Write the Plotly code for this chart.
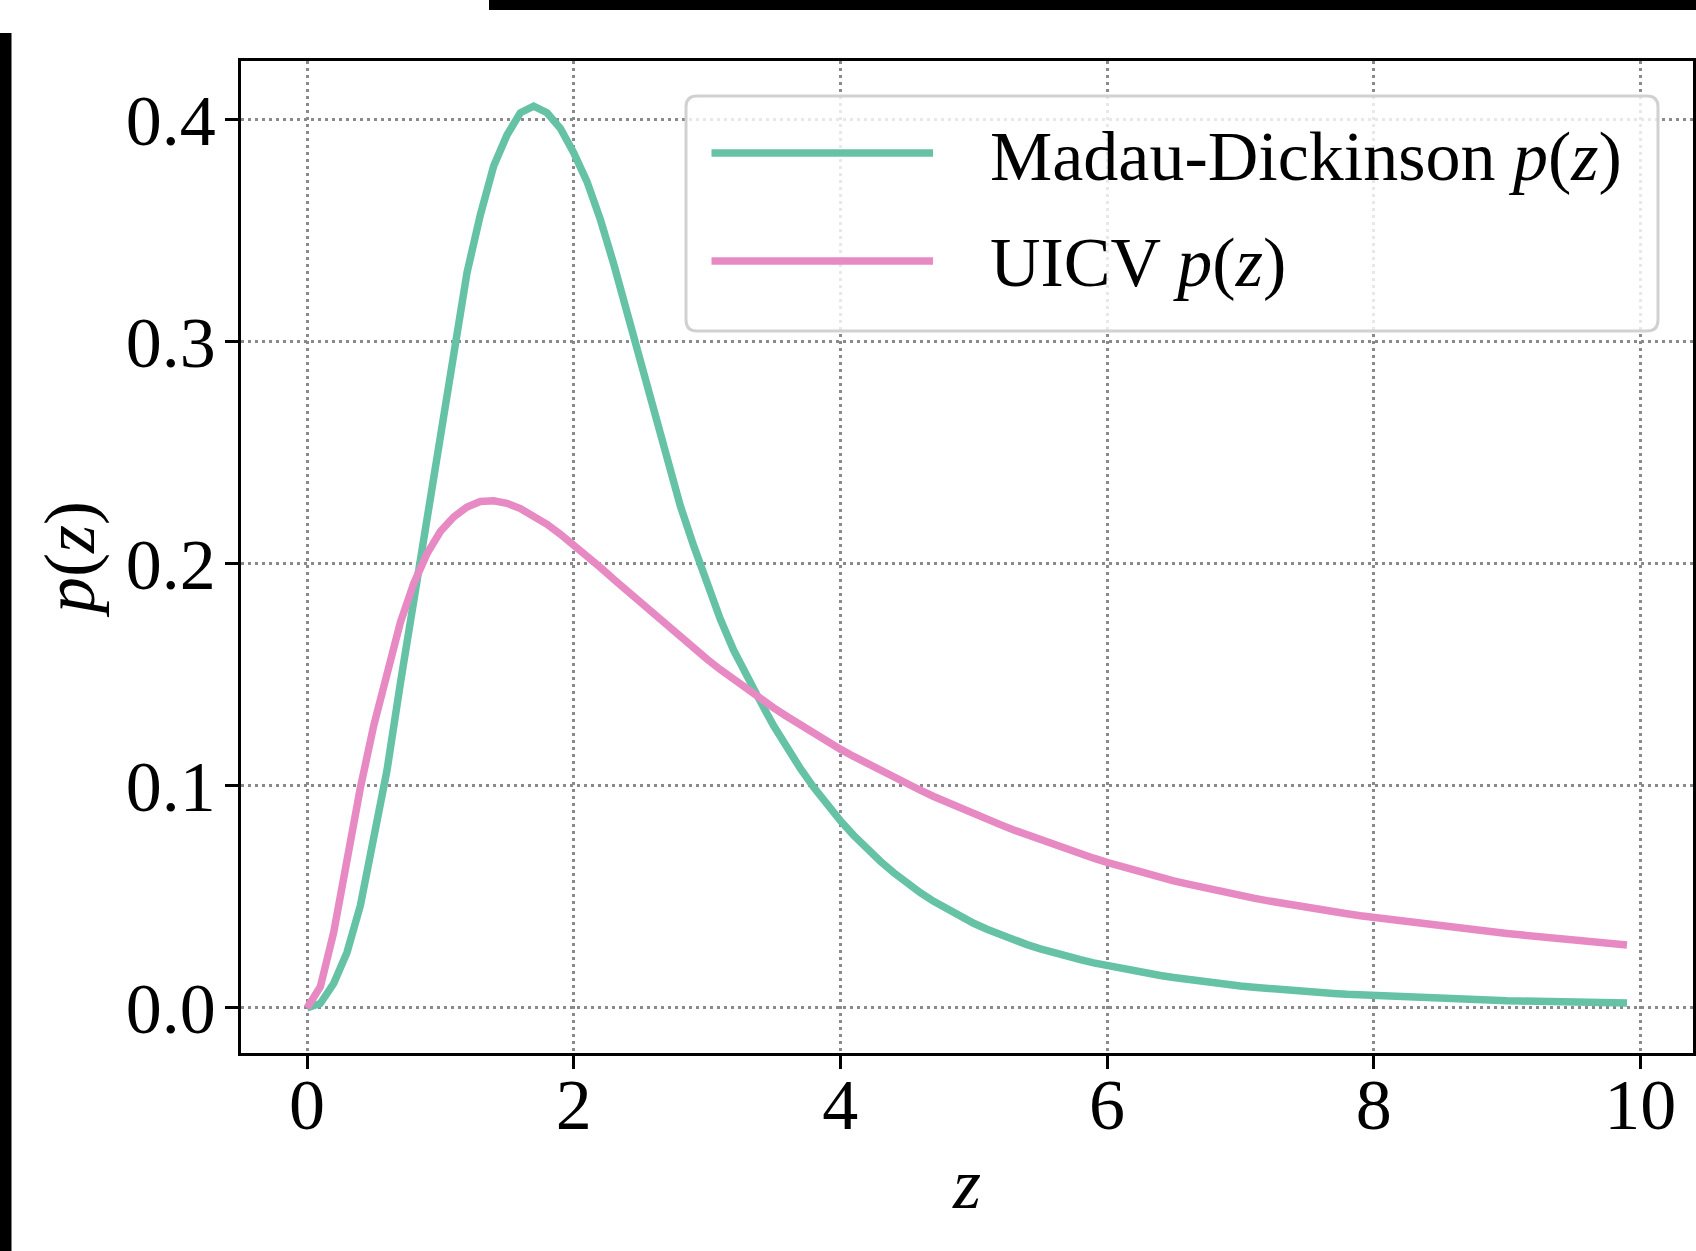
import plotly.graph_objects as go

# ---------------- data ----------------
z_vals = [
    0.0, 0.1, 0.2, 0.3, 0.4, 0.5, 0.6, 0.7, 0.8, 0.9,
    1.0, 1.1, 1.2, 1.3, 1.4, 1.5, 1.6, 1.7, 1.8, 1.9,
    2.0, 2.1, 2.2, 2.3, 2.4, 2.5, 2.6, 2.7, 2.8, 2.9,
    3.0, 3.1, 3.2, 3.3, 3.4, 3.5, 3.6, 3.7, 3.8, 3.9,
    4.0, 4.1, 4.2, 4.3, 4.4, 4.5, 4.6, 4.7, 4.8, 4.9,
    5.0, 5.1, 5.2, 5.3, 5.4, 5.5, 5.6, 5.7, 5.8, 5.9,
    6.0, 6.1, 6.2, 6.3, 6.4, 6.5, 6.6, 6.7, 6.8, 6.9,
    7.0, 7.1, 7.2, 7.3, 7.4, 7.5, 7.6, 7.7, 7.8, 7.9,
    8.0, 8.1, 8.2, 8.3, 8.4, 8.5, 8.6, 8.7, 8.8, 8.9,
    9.0, 9.1, 9.2, 9.3, 9.4, 9.5, 9.6, 9.7, 9.8, 9.9,
]

madau_dickinson = [
    0.0, 0.002, 0.011, 0.025, 0.046, 0.076, 0.107, 0.146, 0.183, 0.221,
    0.260, 0.294, 0.331, 0.357, 0.379, 0.393, 0.403, 0.406, 0.403, 0.396,
    0.385, 0.372, 0.355, 0.335, 0.313, 0.290, 0.267, 0.246, 0.226, 0.208,
    0.191, 0.175, 0.161, 0.149, 0.138, 0.127, 0.117, 0.1078, 0.0993, 0.0915,
    0.0843, 0.0777, 0.0716, 0.0660, 0.0609, 0.0562, 0.0519, 0.0480, 0.0444, 0.0411,
    0.0381, 0.0354, 0.0329, 0.0306, 0.0285, 0.0266, 0.0248, 0.0232, 0.0217, 0.0203,
    0.0190, 0.0178, 0.0167, 0.0156, 0.0146, 0.0137, 0.0128, 0.0120, 0.0112, 0.0105,
    0.0099, 0.0093, 0.0087, 0.0082, 0.0077, 0.0073, 0.0069, 0.0065, 0.0061, 0.0058,
    0.0055, 0.0052, 0.0049, 0.0046, 0.0044, 0.0042, 0.0040, 0.0038, 0.0036, 0.0034,
    0.0032, 0.0031, 0.0029, 0.0028, 0.0027, 0.0026, 0.0025, 0.0024, 0.0023, 0.0022,
]

uicv = [
    0.0, 0.0095, 0.034, 0.068, 0.099, 0.127, 0.152, 0.1735, 0.191, 0.2045,
    0.2145, 0.221, 0.2255, 0.228, 0.2283, 0.2272, 0.2248, 0.2215, 0.2177, 0.2133,
    0.2085, 0.2035, 0.1983, 0.1930, 0.1877, 0.1824, 0.1772, 0.1720, 0.1669, 0.1619,
    0.1570, 0.1523, 0.1478, 0.1434, 0.1392, 0.1351, 0.1312, 0.1274, 0.1237, 0.1202,
    0.1165, 0.1132, 0.1100, 0.1069, 0.1038, 0.1009, 0.0980, 0.0952, 0.0925, 0.0899,
    0.0873, 0.0849, 0.0825, 0.0801, 0.0779, 0.0756, 0.0735, 0.0714, 0.0694, 0.0674,
    0.0655, 0.0637, 0.0620, 0.0603, 0.0587, 0.0572, 0.0558, 0.0544, 0.0531, 0.0518,
    0.0506, 0.0494, 0.0483, 0.0472, 0.0462, 0.0452, 0.0442, 0.0433, 0.0424, 0.0415,
    0.0407, 0.0399, 0.0391, 0.0383, 0.0376, 0.0369, 0.0362, 0.0355, 0.0348, 0.0341,
    0.0335, 0.0329, 0.0323, 0.0317, 0.0311, 0.0305, 0.0299, 0.0293, 0.0288, 0.0283,
]

series_names = ["Madau-Dickinson <i>p</i>(<i>z</i>)", "UICV <i>p</i>(<i>z</i>)"]
series_colors = ["#66c2a5", "#e78ac3"]

x_tick_vals = [0, 2, 4, 6, 8, 10]
x_tick_text = ["0", "2", "4", "6", "8", "10"]
y_tick_vals = [0.0, 0.1, 0.2, 0.3, 0.4]
y_tick_text = ["0.0", "0.1", "0.2", "0.3", "0.4"]

# ---------------- layout geometry (pixels) ----------------
W, H = 1696, 1251
L, R, T, B = 241, 1693, 61, 1053  # plot area edges
FONT = "Liberation Serif"


def px(xp):
    return (xp - L) / (R - L)


def py(yp):
    return (B - yp) / (B - T)


fig = go.Figure()
for vals, name, color in zip([madau_dickinson, uicv], series_names, series_colors):
    fig.add_trace(go.Scatter(
        x=z_vals, y=vals, mode="lines", name=name,
        line=dict(color=color, width=7.5), showlegend=False,
    ))

grid_common = dict(
    showgrid=True, gridcolor="#8a8a8a", gridwidth=2.5, griddash="2.5px,4.5px",
    showline=True, linecolor="black", linewidth=2.7, mirror=True,
    ticks="outside", ticklen=13, tickwidth=3, tickcolor="black",
    zeroline=False,
    tickfont=dict(family=FONT, size=72, color="black"),
)

fig.update_xaxes(
    range=[-0.495, 10.395], tickmode="array",
    tickvals=x_tick_vals, ticktext=x_tick_text, ticklabelstandoff=-26,
    title=dict(text="<i>z</i>", font=dict(family=FONT, size=72, color="black"), standoff=14),
    **grid_common,
)
fig.update_yaxes(
    range=[-0.0203, 0.4263], tickmode="array",
    tickvals=y_tick_vals, ticktext=y_tick_text, ticklabelstandoff=-5,
    title=dict(text="<i>p</i>(<i>z</i>)", font=dict(family=FONT, size=72, color="black"), standoff=8),
    **grid_common,
)

# ---------------- manual legend ----------------
bx0, bx1, by0, by1, rad = 686, 1658, 96, 331, 11


def rr_path(x0, x1, y0, y1, r):
    rx = r / (R - L)
    ry = r / (B - T)
    X0, X1, Y0, Y1 = px(x0), px(x1), py(y0), py(y1)  # Y0 top, Y1 bottom
    return (f"M {X0 + rx},{Y0} L {X1 - rx},{Y0} Q {X1},{Y0} {X1},{Y0 - ry} "
            f"L {X1},{Y1 + ry} Q {X1},{Y1} {X1 - rx},{Y1} "
            f"L {X0 + rx},{Y1} Q {X0},{Y1} {X0},{Y1 + ry} "
            f"L {X0},{Y0 - ry} Q {X0},{Y0} {X0 + rx},{Y0} Z")


shapes = [
    dict(type="path", xref="paper", yref="paper", path=rr_path(bx0, bx1, by0, by1, rad),
         fillcolor="rgba(255,255,255,0.8)", line=dict(color="rgba(204,204,204,0.9)", width=3),
         layer="above"),
]
legend_rows_y = [153, 261]
for yrow, color in zip(legend_rows_y, series_colors):
    shapes.append(dict(type="line", xref="paper", yref="paper",
                       x0=px(711.5), x1=px(933), y0=py(yrow), y1=py(yrow),
                       line=dict(color=color, width=7.5), layer="above"))

# crop artefacts: black bars at the top and left edges of the picture
shapes.append(dict(type="rect", xref="paper", yref="paper",
                   x0=px(489), x1=px(W + 5), y0=py(10), y1=py(-5),
                   fillcolor="black", line=dict(width=0), layer="above"))
shapes.append(dict(type="rect", xref="paper", yref="paper",
                   x0=px(-5), x1=px(11.5), y0=py(H + 5), y1=py(33),
                   fillcolor="black", line=dict(width=0), layer="above"))

annotations = []
legend_text_y = [156, 262]
for yrow, name in zip(legend_text_y, series_names):
    annotations.append(dict(xref="paper", yref="paper", x=px(988), y=py(yrow),
                            xanchor="left", yanchor="middle", showarrow=False,
                            text=name, font=dict(family=FONT, size=70, color="black")))

fig.update_layout(
    width=W, height=H,
    margin=dict(l=L, r=W - R, t=T, b=H - B, autoexpand=False),
    paper_bgcolor="white", plot_bgcolor="white",
    shapes=shapes, annotations=annotations,
    showlegend=False,
    font=dict(family=FONT, color="black"),
)

fig.write_html("out.html")
